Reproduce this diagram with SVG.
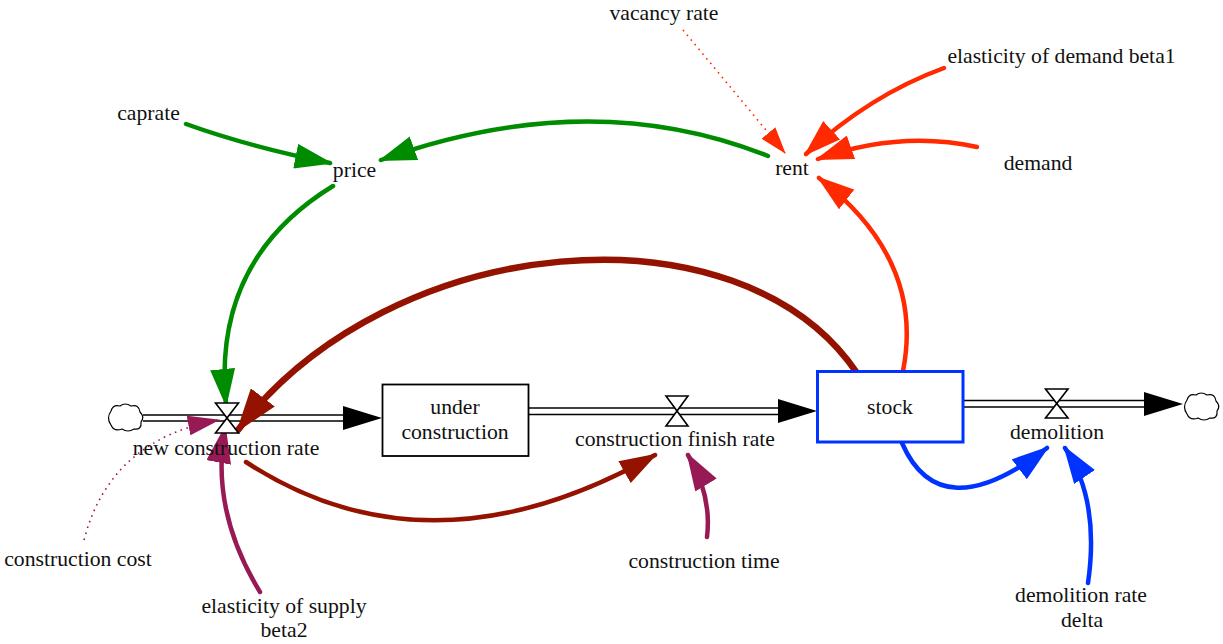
<svg xmlns="http://www.w3.org/2000/svg" width="1223" height="644" viewBox="0 0 1223 644">
<style>
text{font-family:"Liberation Serif","Times New Roman",serif;font-size:21.7px;fill:#111;text-anchor:middle}
.pipe{stroke:#000;stroke-width:1.6;fill:none}
.valve{fill:#fff;stroke:#000;stroke-width:1.6}
.cloud{fill:#fff;stroke:#000;stroke-width:1.2}
.c{fill:none;stroke-width:4.5;stroke-linecap:round}
.g{stroke:#008c00}
.r{stroke:#ff2a00}
.dr{stroke:#931200}
.p{stroke:#981a55}
.b{stroke:#0033ff}
</style>
<defs>
<marker id="ag" viewBox="0 0 38 25" refX="35" refY="12.5" markerWidth="38" markerHeight="25" markerUnits="userSpaceOnUse" orient="auto"><path d="M0,0 L38,12.5 L0,25 Z" fill="#008c00"/></marker>
<marker id="ar" viewBox="0 0 38 25" refX="35" refY="12.5" markerWidth="38" markerHeight="25" markerUnits="userSpaceOnUse" orient="auto"><path d="M0,0 L38,12.5 L0,25 Z" fill="#ff2a00"/></marker>
<marker id="ars" viewBox="0 0 27 18" refX="26" refY="9" markerWidth="27" markerHeight="18" markerUnits="userSpaceOnUse" orient="auto"><path d="M0,0 L27,9 L0,18 Z" fill="#ff2a00"/></marker>
<marker id="adr" viewBox="0 0 38 25" refX="35" refY="12.5" markerWidth="38" markerHeight="25" markerUnits="userSpaceOnUse" orient="auto"><path d="M0,0 L38,12.5 L0,25 Z" fill="#931200"/></marker>
<marker id="adrb" viewBox="0 0 44 30" refX="41" refY="15" markerWidth="44" markerHeight="30" markerUnits="userSpaceOnUse" orient="auto"><path d="M0,0 L44,15 L0,30 Z" fill="#931200"/></marker>
<marker id="ap" viewBox="0 0 38 25" refX="35" refY="12.5" markerWidth="38" markerHeight="25" markerUnits="userSpaceOnUse" orient="auto"><path d="M0,0 L38,12.5 L0,25 Z" fill="#981a55"/></marker>
<marker id="aps" viewBox="0 0 32 20" refX="30" refY="10" markerWidth="32" markerHeight="20" markerUnits="userSpaceOnUse" orient="auto"><path d="M0,0 L32,10 L0,20 Z" fill="#981a55"/></marker>
<marker id="ab" viewBox="0 0 38 25" refX="35" refY="12.5" markerWidth="38" markerHeight="25" markerUnits="userSpaceOnUse" orient="auto"><path d="M0,0 L38,12.5 L0,25 Z" fill="#0033ff"/></marker>
<path id="cloudshape" d="M4,8 Q6,1 13,3 Q18,-1 24,3 Q32,1 33,9 Q38,14 34,19 Q35,27 27,26 Q21,30 15,26 Q7,29 4,22 Q-1,15 4,8 Z"/>
</defs>

<g id="flows">
<use href="#cloudshape" class="cloud" transform="translate(107,403)"/>
<line class="pipe" x1="143" y1="415" x2="350" y2="415"/>
<line class="pipe" x1="143" y1="421" x2="350" y2="421"/>
<polygon points="343,406 382,418 343,430" fill="#000"/>
<line class="pipe" x1="529" y1="408" x2="785" y2="408"/>
<line class="pipe" x1="529" y1="414.5" x2="785" y2="414.5"/>
<polygon points="778,399 817,411 778,423" fill="#000"/>
<line class="pipe" x1="963" y1="400.5" x2="1150" y2="400.5"/>
<line class="pipe" x1="963" y1="407" x2="1150" y2="407"/>
<polygon points="1144,392 1183,404 1144,416" fill="#000"/>
<use href="#cloudshape" class="cloud" transform="translate(1183,392)"/>
</g>

<g id="connectors">
<path class="c g" d="M186,124 Q250,147 330,163" marker-end="url(#ag)"/>
<path class="c g" d="M768,156 Q590,85 381,160" marker-end="url(#ag)"/>
<path class="c g" d="M333,186 Q212,260 226,404" marker-end="url(#ag)"/>
<path class="c r" d="M944,68 Q870,95 806,154" marker-end="url(#ar)"/>
<path class="c r" d="M977,147 Q900,130 818,159" marker-end="url(#ar)"/>
<path fill="none" stroke="#ff2a00" stroke-width="1.6" stroke-dasharray="1.6 4.5" d="M683,30 L785,153" marker-end="url(#ars)"/>
<path class="c r" d="M903,371 Q925,260 819,178" marker-end="url(#ar)"/>
<path class="c dr" style="stroke-width:6.5" d="M857,373 C740,200 390,230 238,430" marker-end="url(#adrb)"/>
<path class="c dr" d="M246,462 Q430,582 655,455" marker-end="url(#adr)"/>
<path class="c p" d="M707,537 Q712,495 688,455" marker-end="url(#ap)"/>
<path class="c p" d="M260,592 Q210,510 225,428" marker-end="url(#ap)"/>
<path fill="none" stroke="#981a55" stroke-width="1.6" stroke-dasharray="1.6 4.5" d="M84,540 Q110,440 218,420" marker-end="url(#aps)"/>
<path class="c b" d="M902,443 Q940,530 1047,448" marker-end="url(#ab)"/>
<path class="c b" d="M1088,583 Q1100,500 1065,448" marker-end="url(#ab)"/>
</g>

<g id="new-construction-rate">
<polygon class="valve" points="215.5,403 238.5,403 215.5,433 238.5,433"/>
<text x="226" y="455">new construction rate</text>
</g>
<g id="under-construction">
<rect x="382.5" y="384.5" width="146" height="71.5" fill="#fff" stroke="#000" stroke-width="1.8"/>
<text x="455" y="414">under</text>
<text x="455" y="439">construction</text>
</g>
<g id="construction-finish-rate">
<polygon class="valve" points="666,396 688,396 666,426 688,426"/>
<text x="675" y="446">construction finish rate</text>
</g>
<g id="stock">
<rect x="817.5" y="371.5" width="145.5" height="70.5" fill="#fff" stroke="#0033ff" stroke-width="3"/>
<text x="890" y="414">stock</text>
</g>
<g id="demolition">
<polygon class="valve" points="1045.5,389 1068,389 1045.5,418 1068,418"/>
<text x="1057" y="439">demolition</text>
</g>
<g id="vacancy-rate"><text x="664" y="20">vacancy rate</text></g>
<g id="elasticity-of-demand-beta1"><text x="1061.5" y="63">elasticity of demand beta1</text></g>
<g id="demand"><text x="1038" y="170">demand</text></g>
<g id="rent"><text x="792" y="175">rent</text></g>
<g id="caprate"><text x="148.5" y="120">caprate</text></g>
<g id="price"><text x="354.5" y="177">price</text></g>
<g id="construction-cost"><text x="78" y="566">construction cost</text></g>
<g id="elasticity-of-supply-beta2"><text x="284" y="613">elasticity of supply</text><text x="284" y="637">beta2</text></g>
<g id="construction-time"><text x="704" y="568">construction time</text></g>
<g id="demolition-rate-delta"><text x="1081" y="602">demolition rate</text><text x="1082" y="627">delta</text></g>
</svg>
